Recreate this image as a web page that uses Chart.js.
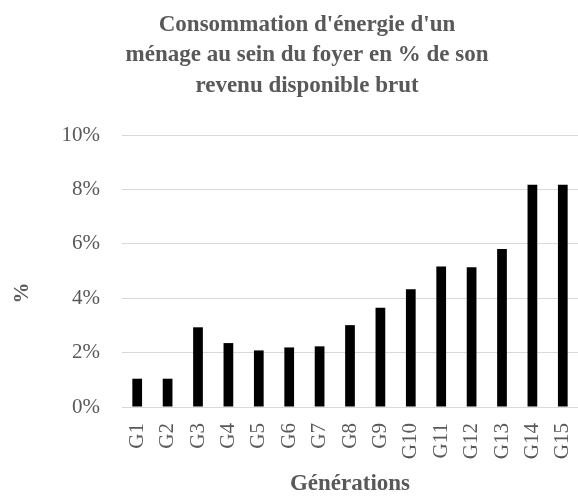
<!DOCTYPE html>
<html>
<head>
<meta charset="utf-8">
<script src="https://cdn.jsdelivr.net/npm/chart.js@4/dist/chart.umd.min.js"></script>
<style>
    html, body { margin: 0; padding: 0; background: #fff; overflow: hidden; }
    #wrap { width: 578px; height: 500px; position: relative; }
</style>
</head>
<body>
<div id="wrap"><canvas id="energyChart"></canvas></div>
<script>
// Data
const generations = ['G1', 'G2', 'G3', 'G4', 'G5', 'G6', 'G7', 'G8', 'G9', 'G10', 'G11', 'G12', 'G13', 'G14', 'G15'];
const shareOfIncome = [1.04, 1.04, 2.93, 2.35, 2.08, 2.19, 2.23, 3.01, 3.65, 4.33, 5.17, 5.14, 5.81, 8.17, 8.17];
const titleLines = ["Consommation d'énergie d'un", "ménage au sein du foyer en % de son", "revenu disponible brut"];
const yTicks = [0, 2, 4, 6, 8, 10];

const grey = '#595959';
const serif = "'Liberation Serif', 'Times New Roman', serif";

// Title and y title sit off-centre in the original, so draw them ourselves
const offsetTitles = {
    id: 'offsetTitles',
    afterDraw(chart) {
        const ctx = chart.ctx;
        ctx.save();
        ctx.fillStyle = grey;
        ctx.font = "bold 23px " + serif;
        ctx.textAlign = 'center';
        ctx.textBaseline = 'middle';
        titleLines.forEach((line, i) => ctx.fillText(line, 307, 25 + i * 30.5));

        ctx.font = "bold 21px " + serif;
        ctx.translate(23, 293);
        ctx.rotate(-Math.PI / 2);
        ctx.fillText('%', 0, 0);
        ctx.restore();
    }
};

new Chart(document.getElementById('energyChart'), {
    type: 'bar',
    data: {
        labels: generations,
        datasets: [{
            data: shareOfIncome,
            backgroundColor: '#000000',
            barPercentage: 0.32,
            categoryPercentage: 1
        }]
    },
    options: {
        responsive: true,
        maintainAspectRatio: false,
        animation: false,
        layout: { padding: { top: 135, left: 10, right: 0, bottom: 0 } },
        plugins: {
            legend: { display: false },
            tooltip: { enabled: false }
        },
        scales: {
            x: {
                grid: { display: false, drawTicks: false },
                border: { display: false },
                ticks: {
                    color: grey,
                    font: { family: serif, size: 21 },
                    minRotation: 90,
                    maxRotation: 90,
                    padding: 16
                },
                title: {
                    display: true,
                    text: 'Générations',
                    color: grey,
                    font: { family: serif, size: 23, weight: 'bold' },
                    padding: { top: 0, bottom: 2 }
                },
                afterFit: (scale) => {
                    scale.height = 93;
                    scale.paddingLeft = 0;
                    scale.paddingRight = 0;
                }
            },
            y: {
                min: 0,
                max: 10,
                afterBuildTicks: (scale) => { scale.ticks = yTicks.map(v => ({ value: v })); },
                grid: { color: '#d9d9d9', lineWidth: 1, drawTicks: false },
                border: { display: false },
                ticks: {
                    color: grey,
                    font: { family: serif, size: 21 },
                    padding: 22,
                    callback: (v) => v + '%'
                },
                afterFit: (scale) => {
                    scale.width = 112;
                    scale.paddingTop = 0;
                    scale.paddingBottom = 0;
                }
            }
        }
    },
    plugins: [offsetTitles]
});
</script>
</body>
</html>
